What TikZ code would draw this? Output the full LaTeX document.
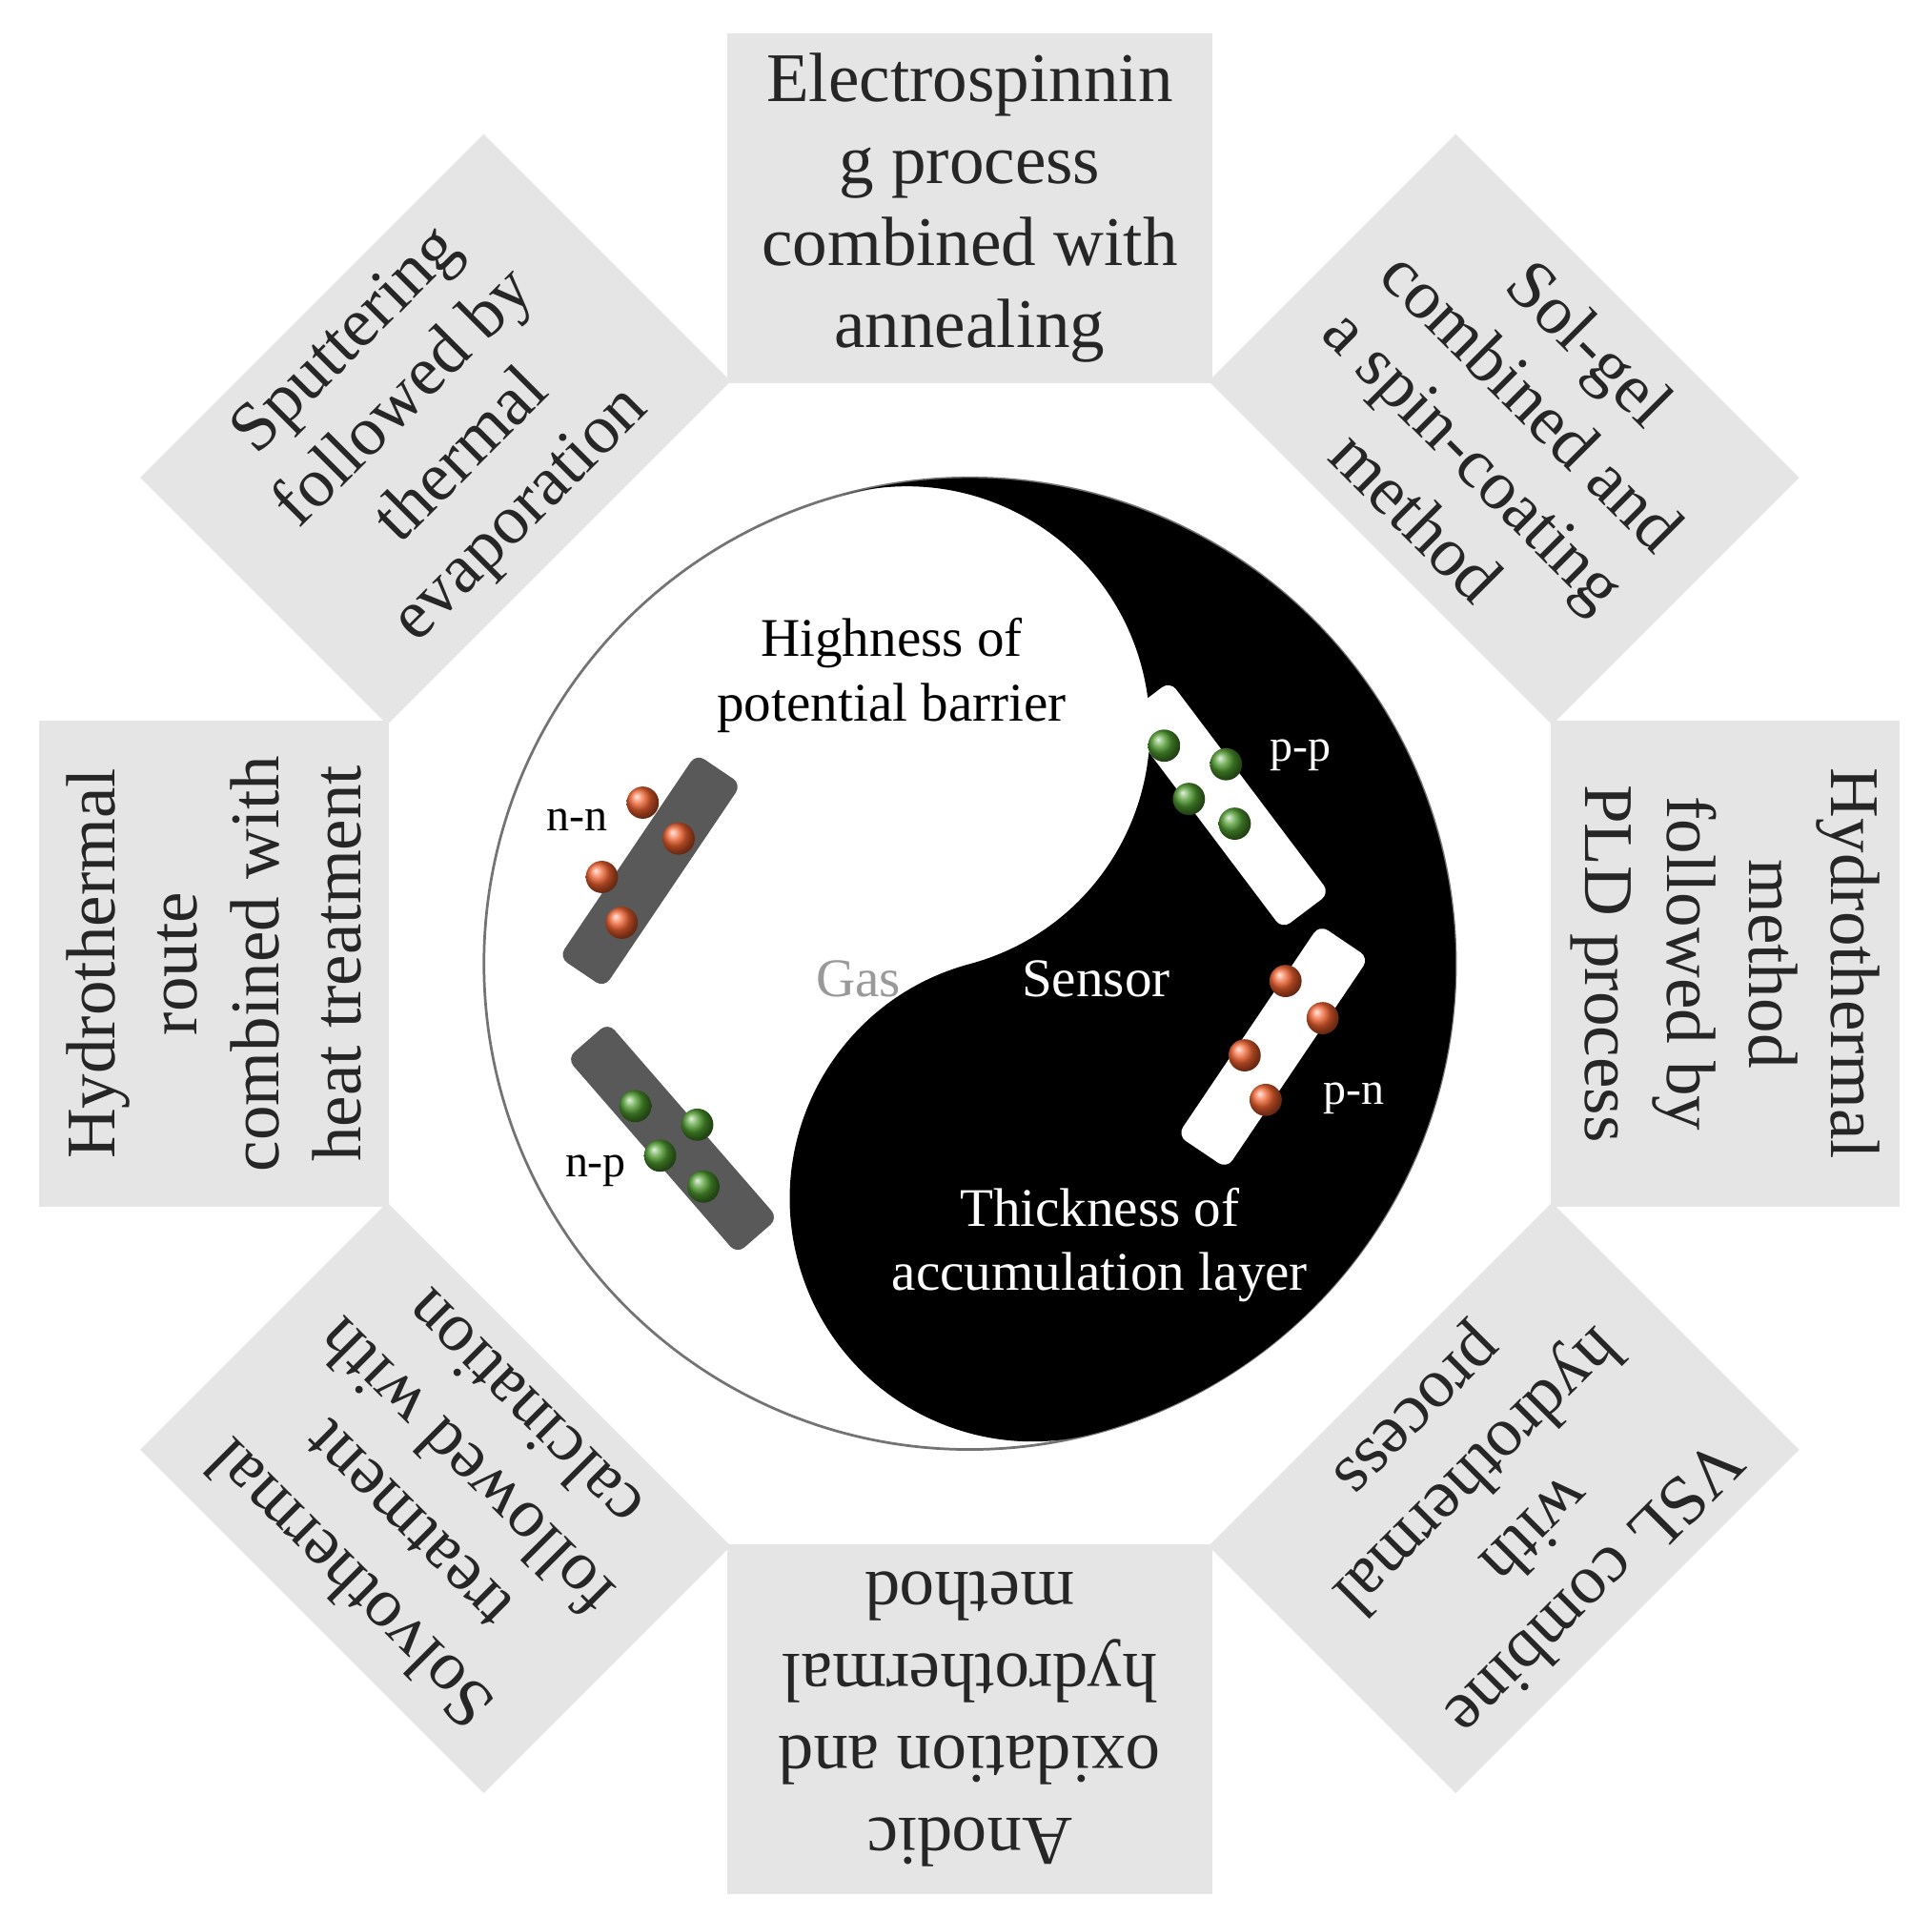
\documentclass[tikz,border=0pt]{standalone}
\usepackage{fontspec}
\setmainfont{Liberation Serif}
\definecolor{ballO}{HTML}{F0602E}
\definecolor{ballG}{HTML}{4E9A2E}
\begin{document}
\begin{tikzpicture}[x=0.01cm,y=0.01cm,
  box/.style={fill=black!10,minimum width=3.92cm,minimum height=2.82cm,inner sep=0pt,align=center,
    font=\fontsize{16}{18.8}\selectfont,text=black!85},
  lab/.style={font=\fontsize{12.5}{14.8}\selectfont,align=center},
  small/.style={font=\fontsize{10.5}{12}\selectfont},
  nball/.style={ball color=ballO,circle,minimum size=0.26cm,inner sep=0pt},
  pball/.style={ball color=ballG,circle,minimum size=0.26cm,inner sep=0pt},
  drod/.style={fill=black!65,rounded corners=0.08cm,minimum height=0.44cm,inner sep=0pt},
  wrod/.style={fill=white,rounded corners=0.08cm,minimum height=0.48cm,inner sep=0pt}]
\useasboundingbox (-783,-769) rectangle (777,778);
\fill[white] (-783,-769) rectangle (777,778);
\foreach \a/\t [count=\i] in {
 90/{Electrospinnin\\g process\\combined with\\annealing},
 45/{Sol-gel\\combined and\\a spin-coating\\method},
 0/{Hydrothermal\\method\\followed by\\PLD process},
 -45/{VSL combine\\with\\hydrothermal\\process},
 -90/{Anodic\\oxidation and\\hydrothermal\\method},
 -135/{Solvothermal\\treatment\\followed with\\calcination},
 180/{Hydrothermal\\route\\combined with\\heat treatment},
 135/{Sputtering\\followed by\\thermal\\evaporation}}
 { \node[box,rotate=\a-90] (b\i) at (\a:610) {\t}; }
\node[circle,fill=white,draw=black!55,line width=0.6,minimum size=7.84cm,inner sep=0pt] (c) at (0,0) {};
\fill[black,rotate=15] (0,392) arc[start angle=90,end angle=-90,radius=3.92cm]
  arc[start angle=-90,end angle=-270,radius=1.96cm]
  arc[start angle=-90,end angle=90,radius=1.96cm] -- cycle;
\node[lab] (t1) at (-63,233) {Highness of\\potential barrier};
\node[lab,text=black!40] (t2) at (-90,-12) {Gas};
\node[lab,text=white] (t3) at (102,-12) {Sensor};
\node[lab,text=white] (t4) at (105,-227) {Thickness of\\accumulation layer};
\node[small] (l1) at (-317,116) {n-n};
\node[small] (l2) at (-302,-167) {n-p};
\node[small,text=white] (l3) at (267,168) {p-p};
\node[small,text=white] (l4) at (310,-109) {p-n};
\node[drod,minimum width=1.98cm,rotate=56] (r1) at (-258,75) {};
\node[drod,minimum width=2.09cm,rotate=-49] (r2) at (-240,-141) {};
\node[wrod,minimum width=2.14cm,rotate=-53] (r3) at (207,128) {};
\node[wrod,minimum width=2.05cm,rotate=56] (r4) at (245,-67) {};
\foreach \p in {(-264,130),(-235,101),(-297,70),(-281,33),(255,-14),(285,-44),(222,-74),(239,-110)} \node[nball] at \p {};
\foreach \p in {(-270,-115),(-220,-130),(-250,-155),(-215,-180),(157,176),(207,161),(177,133),(214,113)} \node[pball] at \p {};
\end{tikzpicture}
\end{document}
